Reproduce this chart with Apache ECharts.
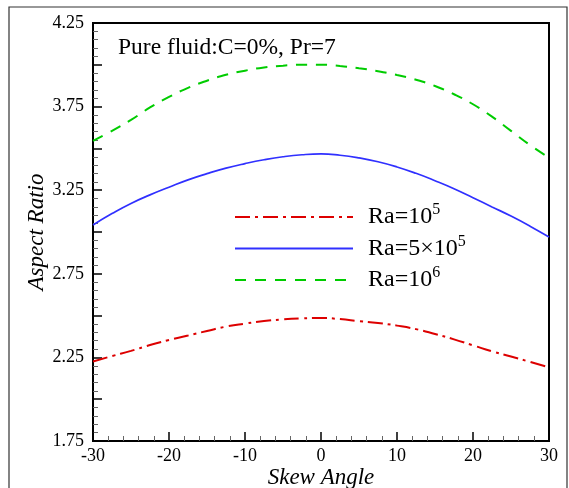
<!DOCTYPE html>
<html>
<head>
<meta charset="utf-8">
<script src="https://cdn.jsdelivr.net/npm/echarts@6/dist/echarts.min.js"></script>
<style>html,body{margin:0;padding:0;background:#fff}#c{width:569px;height:488px}</style>
</head>
<body>
<div id="c"></div>
<script>
const angles = [-30, -27.5, -25, -22.5, -20, -17.5, -15, -12.5, -10, -7.5, -5, -2.5, 0,
                2.5, 5, 7.5, 10, 12.5, 15, 17.5, 20, 22.5, 25, 27.5, 30];
const ra1e5 = [2.226, 2.258, 2.289, 2.324, 2.354, 2.381, 2.408, 2.434, 2.452, 2.467, 2.477, 2.483, 2.486,
               2.479, 2.467, 2.456, 2.44, 2.419, 2.39, 2.358, 2.322, 2.286, 2.255, 2.223, 2.19];
const ra5e5 = [3.042, 3.11, 3.171, 3.222, 3.268, 3.312, 3.349, 3.382, 3.409, 3.432, 3.45, 3.462, 3.467,
               3.459, 3.443, 3.42, 3.389, 3.351, 3.307, 3.259, 3.205, 3.15, 3.095, 3.035, 2.97];
const ra1e6 = [3.545, 3.605, 3.67, 3.745, 3.808, 3.862, 3.905, 3.94, 3.965, 3.984, 3.995, 4.0, 4.0,
               3.993, 3.979, 3.962, 3.939, 3.911, 3.873, 3.824, 3.764, 3.69, 3.605, 3.52, 3.445];
const seriesNames = ['Ra=10^5', 'Ra=5x10^5', 'Ra=10^6'];
const legendLabels = ['Ra=10{sup|5}', 'Ra=5×10{sup|5}', 'Ra=10{sup|6}'];
const yTickLabels = ['1.75', '2.25', '2.75', '3.25', '3.75', '4.25'];
const titleText = 'Pure fluid:C=0%, Pr=7';

const serif = '"Liberation Serif", "Times New Roman", serif';
const pairs = arr => angles.map((a, i) => [a, arr[i]]);

const chart = echarts.init(document.getElementById('c'), null, {renderer: 'canvas'});
chart.setOption({
  animation: false,
  backgroundColor: '#fff',
  title: {
    text: titleText, left: 113, top: 31,
    textStyle: {fontFamily: serif, fontSize: 23.5, fontWeight: 'normal', color: '#000'}
  },
  graphic: [{
    type: 'rect', shape: {x: 9, y: 7, width: 558, height: 500},
    style: {fill: 'none', stroke: '#333', lineWidth: 1.2}, silent: true, z: -1
  }],
  grid: {left: 93, right: 20, top: 23, bottom: 47, outerBoundsMode: 'none', containLabel: false,
         show: true, borderColor: '#000', borderWidth: 2, backgroundColor: 'transparent'},
  legend: {
    orient: 'vertical', left: 229, top: 197, itemWidth: 118, itemHeight: 10, itemGap: 1.5,
    data: seriesNames,
    itemStyle: {opacity: 0},
    formatter: name => legendLabels[seriesNames.indexOf(name)],
    textStyle: {
      fontFamily: serif, fontSize: 24, lineHeight: 30, color: '#000', padding: [0, 0, 0, 10],
      rich: {sup: {fontFamily: serif, fontSize: 16, color: '#000', verticalAlign: 'top', lineHeight: 14}}
    }
  },
  xAxis: {
    type: 'value', min: -30, max: 30, interval: 10,
    name: 'Skew Angle', nameLocation: 'middle', nameGap: 25, nameMoveOverlap: false,
    nameTextStyle: {fontFamily: serif, fontSize: 23, fontStyle: 'italic', color: '#000'},
    axisLine: {show: true, onZero: false, lineStyle: {color: '#000', width: 2}},
    axisTick: {show: true, inside: true, length: 9, lineStyle: {color: '#000', width: 1.5}},
    minorTick: {show: true, splitNumber: 5, length: 5, lineStyle: {color: '#666', width: 1}},
    axisLabel: {fontFamily: serif, fontSize: 18, color: '#000', margin: 6},
    splitLine: {show: false}
  },
  yAxis: {
    type: 'value', min: 1.75, max: 4.25, interval: 0.25,
    name: 'Aspect Ratio', nameLocation: 'middle', nameGap: 45, nameMoveOverlap: false,
    nameTextStyle: {fontFamily: serif, fontSize: 23, fontStyle: 'italic', color: '#000'},
    axisLine: {show: true, onZero: false, lineStyle: {color: '#000', width: 2}},
    axisTick: {show: true, inside: true, length: 9, lineStyle: {color: '#000', width: 1.5}},
    minorTick: {show: true, splitNumber: 5, length: 5, lineStyle: {color: '#666', width: 1}},
    axisLabel: {
      fontFamily: serif, fontSize: 18, color: '#000', margin: 9,
      formatter: v => { const s = v.toFixed(2); return yTickLabels.includes(s) ? s : ''; }
    },
    splitLine: {show: false}
  },
  series: [
    {name: seriesNames[0], type: 'line', data: pairs(ra1e5), smooth: true, symbol: 'none',
     lineStyle: {color: '#dd0000', width: 2, type: [15, 5, 3, 5]}, itemStyle: {color: '#dd0000'}},
    {name: seriesNames[1], type: 'line', data: pairs(ra5e5), smooth: true, symbol: 'none',
     lineStyle: {color: '#3030ff', width: 1.7, type: 'solid'}, itemStyle: {color: '#3030ff'}},
    {name: seriesNames[2], type: 'line', data: pairs(ra1e6), smooth: true, symbol: 'none',
     lineStyle: {color: '#00cc00', width: 2, type: [11, 9]}, itemStyle: {color: '#00cc00'}}
  ]
});
</script>
</body>
</html>
